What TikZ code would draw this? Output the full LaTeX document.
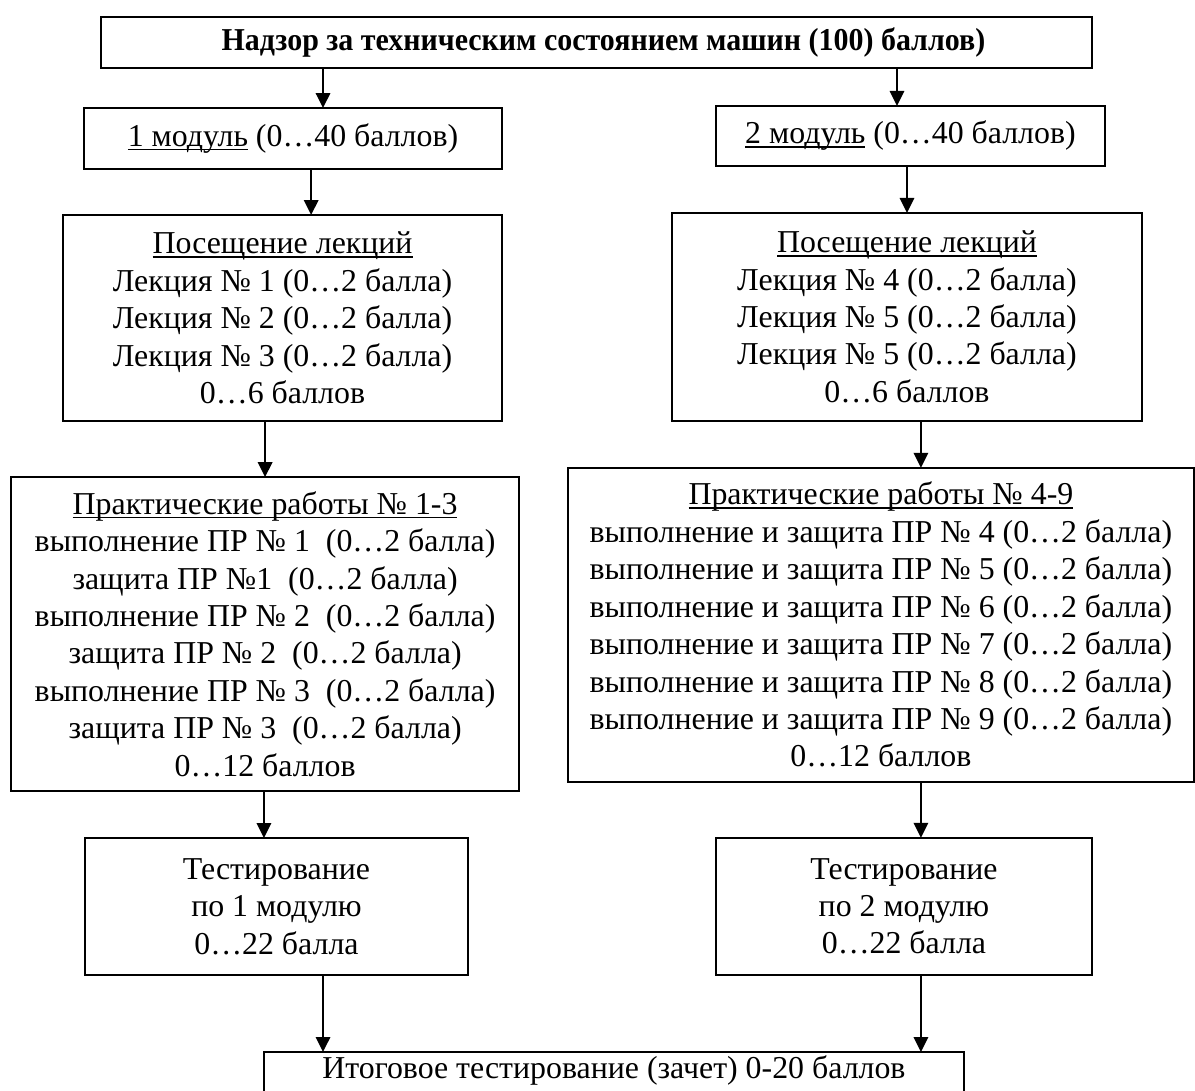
\documentclass[tikz,border=0pt]{standalone}
\usepackage{fontspec}
\setmainfont{Liberation Serif}
\usepackage{graphicx}
\usetikzlibrary{positioning,arrows.meta}
\newsavebox\ulbox
\newcommand\ulin[1]{\sbox\ulbox{#1}\rlap{\rule[-1.7pt]{\wd\ulbox}{0.6pt}}\usebox\ulbox}
\begin{document}
\begin{tikzpicture}[x=0.43pt,y=0.43pt,main/.style = {draw, rectangle, line width=0.85pt, inner sep=0pt, outer sep=0pt, align=center, font=\fontsize{13.7}{16.1}\selectfont},arr/.style = {line width=0.85pt, -{Triangle[length=6.4pt,width=6.2pt]}}] 
			\useasboundingbox (0,0) rectangle (1195,-1090);
			
			\node[main] (1) [minimum width=426.1pt,minimum height=21.9pt] at (596.5,-42.5) {\hspace{6pt}\scalebox{0.94}[1]{\textbf{Надзор за техническим состоянием машин (100) баллов)}}}; 
			
			\node[main] (2) [xshift=-130.5pt,below=17.2pt of 1,minimum width=179.7pt,minimum height=26.2pt] {\ulin{1 модуль} (0…40 баллов)}; 
			\node[main] (3) [xshift=135pt,below=16.3pt of 1,minimum width=167.3pt,minimum height=25.8pt] {\ulin{2 модуль} (0…40 баллов)}; 
			
			\node[main] (4) [xshift=-4.5pt,below=19.8pt of 2,minimum width=188.8pt,minimum height=88.6pt] {\ulin{Посещение лекций}\\Лекция № 1 (0…2 балла)\\Лекция № 2 (0…2 балла)\\Лекция № 3 (0…2 балла)\\0…6 баллов}; 
			\node[main] (5) [xshift=-1.5pt,below=20.2pt of 3,minimum width=202.1pt,minimum height=89.4pt] {\ulin{Посещение лекций}\\Лекция № 4 (0…2 балла)\\Лекция № 5 (0…2 балла)\\Лекция № 5 (0…2 балла)\\0…6 баллов}; 
			
			\node[main] (6) [xshift=-7.5pt,below=24.1pt of 4,minimum width=218.4pt,minimum height=135pt] {\ulin{Практические работы № 1-3}\\выполнение ПР № 1~ (0…2 балла)\\защита ПР №1~ (0…2 балла)\\выполнение ПР № 2~ (0…2 балла)\\защита ПР № 2~ (0…2 балла)\\выполнение ПР № 3~ (0…2 балла)\\защита ПР № 3~ (0…2 балла)\\0…12 баллов}; 
			\node[main] (7) [xshift=-11.2pt,below=20.2pt of 5,minimum width=269.2pt,minimum height=135pt] {\ulin{Практические работы № 4-9}\\выполнение и защита ПР № 4 (0…2 балла)\\выполнение и защита ПР № 5 (0…2 балла)\\выполнение и защита ПР № 6 (0…2 балла)\\выполнение и защита ПР № 7 (0…2 балла)\\выполнение и защита ПР № 8 (0…2 балла)\\выполнение и защита ПР № 9 (0…2 балла)\\0…12 баллов}; 
			
			\node[main] (8) [xshift=4.9pt,below=20.2pt of 6,minimum width=164.7pt,minimum height=58.9pt] {Тестирование\\по 1 модулю\\0…22 балла}; 
			\node[main] (9) [xshift=9.9pt,below=24.1pt of 7,minimum width=161.7pt,minimum height=58.9pt] {Тестирование\\по 2 модулю\\0…22 балла}; 
			
			\node[main] (10) [xshift=145.1pt,below=33.1pt of 8,minimum width=301pt,text height=11.6pt,text depth=26pt] {Итоговое тестирование (зачет) 0-20 баллов}; 
			
			\draw[arr] ([xshift=12.9pt]2.north |- 1.south)--([xshift=12.9pt]2.north);
			\draw[arr] ([xshift=-5.8pt]3.north |- 1.south)--([xshift=-5.8pt]3.north);
			\draw[arr] ([xshift=12.3pt]4.north |- 2.south)--([xshift=12.3pt]4.north);
			\draw[arr] (5.north |- 3.south)--(5.north);
			\draw[arr] (6.north |- 4.south)--(6.north);
			\draw[arr] ([xshift=17.2pt]7.north |- 5.south)--([xshift=17.2pt]7.north);
			\draw[arr] ([xshift=-5.4pt]8.north |- 6.south)--([xshift=-5.4pt]8.north);
			\draw[arr] ([xshift=7.3pt]9.north |- 7.south)--([xshift=7.3pt]9.north);
			\draw[arr] ([xshift=20pt]8.south)--([xshift=20pt]8.south |- 10.north);
			\draw[arr] ([xshift=7.3pt]9.south)--([xshift=7.3pt]9.south |- 10.north);
			
		\end{tikzpicture}
\end{document}
